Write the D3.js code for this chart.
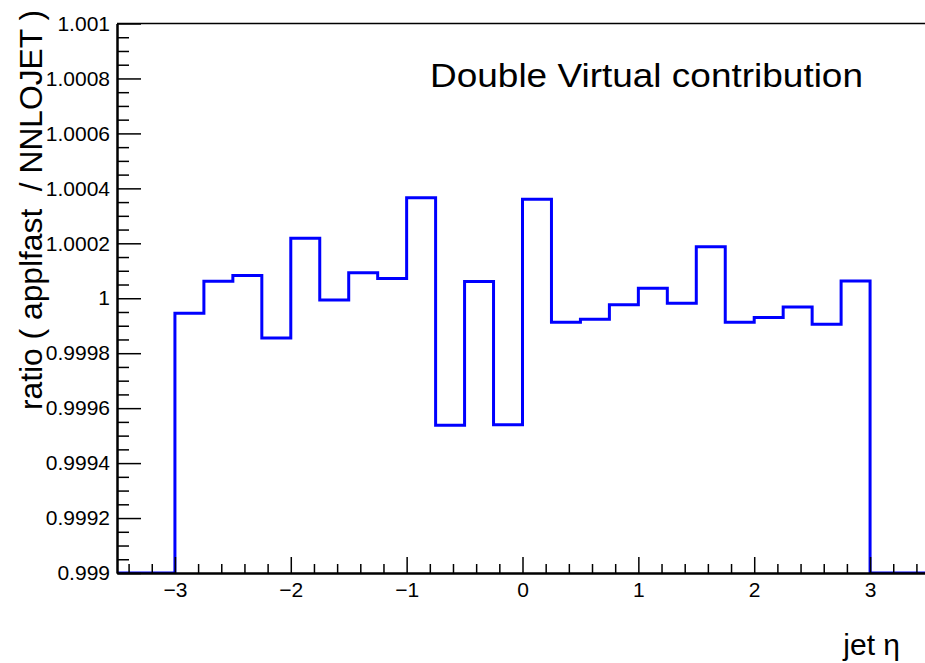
<!DOCTYPE html>
<html>
<head>
<meta charset="utf-8">
<script src="https://cdn.jsdelivr.net/npm/d3@7/dist/d3.min.js"></script>
<style>
  html, body { margin: 0; padding: 0; background: #fff; }
  svg { display: block; }
  text { font-family: "Liberation Sans", Arial, Helvetica, sans-serif; fill: #000; white-space: pre; }
  g.axis text { font-size: 21px; }
</style>
</head>
<body>
<svg id="chart" width="925" height="663"></svg>
<script>
// Bin edges in jet pseudorapidity (width 0.25 between -3 and 3, empty outer bins)
const binEdges = [-3.5, -3.25, -3, -2.75, -2.5, -2.25, -2, -1.75, -1.5, -1.25, -1, -0.75, -0.5,
                  -0.25, 0, 0.25, 0.5, 0.75, 1, 1.25, 1.5, 1.75, 2, 2.25, 2.5, 2.75, 3, 3.25, 3.5];
// Ratio applfast / NNLOJET per bin (outer bins are empty and sit at the axis floor)
const ratioValues = [0.999, 0.999,
  0.999945, 1.000062, 1.0000825, 0.999855, 1.000218, 0.999994, 1.000093, 1.000072,
  1.000366, 0.999538, 1.000061, 0.99954, 1.00036, 0.999913, 0.999924, 0.999976,
  1.000036, 0.999982, 1.000187, 0.999913, 0.99993, 0.999968, 0.999905, 1.000063,
  0.999, 0.999];

const xMajorTicks = [-3, -2, -1, 0, 1, 2, 3];
const xTickLabels = ["\u22123", "\u22122", "\u22121", "0", "1", "2", "3"];
const yMajorTicks = [0.999, 0.9992, 0.9994, 0.9996, 0.9998, 1, 1.0002, 1.0004, 1.0006, 1.0008, 1.001];
const yTickLabels = ["0.999", "0.9992", "0.9994", "0.9996", "0.9998", "1", "1.0002", "1.0004", "1.0006", "1.0008", "1.001"];

const titleText = "Double Virtual contribution";
const yAxisTitle = "ratio ( applfast  / NNLOJET )";
const xAxisTitle = "jet \u03b7";

const svg = d3.select("#chart");
const padL = 117, padR = 928, padT = 23.5, padB = 573;
const fontStack = '"Liberation Sans", Arial, Helvetica, sans-serif';

const x = d3.scaleLinear().domain([-3.5, 3.5]).range([padL, padR]);
const y = d3.scaleLinear().domain([0.999, 1.001]).range([padB, padT]);

// Minor tick positions
const xMinor = d3.range(-34, 35, 2).map(d => d / 10).filter(d => Math.abs(d - Math.round(d)) > 1e-9);
const yMinor = d3.range(9990, 10010.5, 0.5).map(d => d / 10000).filter(d => !yMajorTicks.some(t => Math.abs(t - d) < 1e-9));

const clipId = "plotclip";
svg.append("defs").append("clipPath").attr("id", clipId)
  .append("rect").attr("x", padL).attr("y", padT - 2).attr("width", padR - padL).attr("height", padB - padT + 2);

// Histogram outline as a step line
const pts = binEdges.slice(0, -1).map((e, i) => [e, ratioValues[i]]);
pts.push([binEdges[binEdges.length - 1], ratioValues[ratioValues.length - 1]]);
const step = d3.line().x(d => x(d[0])).y(d => y(d[1])).curve(d3.curveStepAfter);

svg.append("path")
  .attr("d", step(pts))
  .attr("fill", "none")
  .attr("stroke", "#0000ff")
  .attr("stroke-width", 3)
  .attr("clip-path", `url(#${clipId})`);

// X axis: major + minor ticks pointing inward
const gx = svg.append("g").attr("class", "axis").attr("transform", `translate(0,${padB})`);
gx.call(d3.axisBottom(x).tickValues(xMajorTicks).tickSizeInner(-16).tickSizeOuter(0)
  .tickPadding(9).tickFormat((d, i) => xTickLabels[i]));
gx.attr("font-size", 21).attr("font-family", fontStack);
gx.append("g").call(d3.axisBottom(x).tickValues(xMinor).tickSizeInner(-9).tickSizeOuter(0).tickFormat(""));
gx.selectAll(".domain").attr("stroke", "#000").attr("stroke-width", 2);
gx.selectAll(".tick line").attr("stroke", "#000").attr("stroke-width", 1.5);
gx.selectAll(".tick text").attr("dy", "0.71em")
  .style("font-size", "21px").style("font-family", fontStack);

// Y axis
const gy = svg.append("g").attr("class", "axis").attr("transform", `translate(${padL},0)`);
gy.call(d3.axisLeft(y).tickValues(yMajorTicks).tickSizeInner(-24).tickSizeOuter(0)
  .tickPadding(7).tickFormat((d, i) => yTickLabels[i]));
gy.attr("font-size", 21).attr("font-family", fontStack);
gy.append("g").call(d3.axisLeft(y).tickValues(yMinor).tickSizeInner(-12).tickSizeOuter(0).tickFormat(""));
gy.selectAll(".domain").attr("stroke", "#000").attr("stroke-width", 2);
gy.selectAll(".tick line").attr("stroke", "#000").attr("stroke-width", 1.5);
gy.selectAll(".tick text")
  .style("font-size", "21px").style("font-family", fontStack);

// Top frame line
svg.append("line").attr("x1", padL).attr("x2", padR).attr("y1", padT).attr("y2", padT)
  .attr("stroke", "#000").attr("stroke-width", 1.5);

// Titles
svg.append("text").attr("x", 430).attr("y", 86.5)
  .style("font-size", "33px")
  .attr("textLength", 433).attr("lengthAdjust", "spacingAndGlyphs")
  .text(titleText);
svg.append("text").attr("x", 900).attr("y", 655).attr("text-anchor", "end")
  .style("font-size", "30px").text(xAxisTitle);
svg.append("text").attr("transform", "translate(42,410) rotate(-90)")
  .style("font-size", "31px")
  .attr("textLength", 400).attr("lengthAdjust", "spacingAndGlyphs")
  .text(yAxisTitle);
</script>
</body>
</html>
